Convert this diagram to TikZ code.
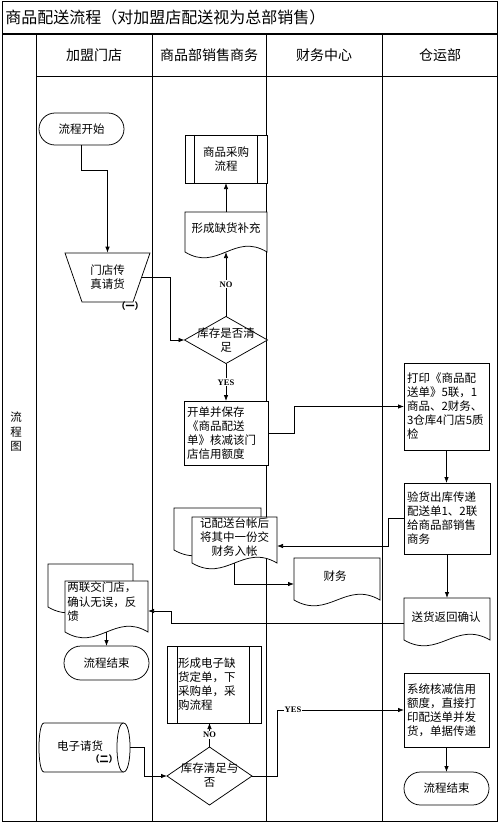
\documentclass[tikz,border=0pt]{standalone}
\usepackage{fontspec}
\setmainfont{Noto Sans CJK SC}
\newfontfamily\latinserif{Liberation Serif}
\usetikzlibrary{arrows.meta,calc,shapes.geometric,shapes.misc}

\newcommand\mydoc[5]{%
  \filldraw[fill=white] (#2,#3) -- (#4,#3) -- (#4,#5) .. controls ({#4-0.4*(#4-#2)},{#5-20}) and ({#4-0.6*(#4-#2)},{#5+20}) .. (#2,#5) -- cycle;
  \node[inner sep=0pt, outer sep=0pt, minimum width={(#4-#2)*1pt}, minimum height={(#5-#3)*1pt}] (#1) at ({(#2+#4)/2},{(#3+#5)/2}) {};}
\newcommand\mybackdoc[4]{%
  \filldraw[fill=white] (#1,#2) -- (#3,#2) -- (#3,#4) .. controls ({#3-0.4*(#3-#1)},{#4-20}) and ({#3-0.6*(#3-#1)},{#4+20}) .. (#1,#4) -- cycle;}

\begin{document}
\begin{tikzpicture}[x=1pt,y=-1pt,line width=0.75pt,
  bodyfont/.style={font=\fontsize{11.5}{14}\selectfont},
  txt/.style={bodyfont, inner sep=0pt, align=center},
  txtl/.style={bodyfont, inner sep=0pt, align=left},
  head/.style={font=\fontsize{14}{16}\selectfont, inner sep=0pt},
  box/.style={draw, fill=white, bodyfont, align=left, inner xsep=3pt, inner ysep=2pt, outer sep=0pt},
  proc/.style={draw, fill=white, bodyfont, outer sep=0pt},
  term/.style={rounded rectangle, draw, fill=white, bodyfont, minimum width=85pt, outer sep=0pt, inner sep=0pt},
  decide/.style={diamond, draw, fill=white, inner sep=0pt, outer sep=0pt},
  arr/.style={-{Latex[length=6pt,width=4.5pt]}},
  yn/.style={font=\latinserif\bfseries\fontsize{8.5}{9}\selectfont, fill=white, inner sep=1pt},
  tag/.style={font=\bfseries\fontsize{9}{10}\selectfont, inner sep=0pt}]
\useasboundingbox (0,0) rectangle (500,824);

% frame and lanes
\draw[line width=1pt] (2,2) rectangle (497,821);
\draw[line width=1.6pt] (2,34) -- (497,34);
\draw (36,34) -- (36,821);
\draw (152,34) -- (152,821);
\draw (266,34) -- (266,821);
\draw (382,34) -- (382,821);
\draw (36,76) -- (497,76);

\node[anchor=west, font=\fontsize{16}{18}\selectfont, inner sep=0pt] (title) at (5,17) {商品配送流程（对加盟店配送视为总部销售）};
\node[head] (h1) at (94,55) {加盟门店};
\node[head] (h2) at (209,55) {商品部销售商务};
\node[head] (h3) at (324,55) {财务中心};
\node[head] (h4) at (440,55) {仓运部};
\node[txt, font=\fontsize{11.5}{14.5}\selectfont] (lane) at (16,432) {流\\程\\图};

% 加盟门店 column
\node[term, minimum height=32pt] (start) at (81.5,129) {流程开始};
\filldraw[fill=white] (65,253) -- (150,253) -- (133,302) -- (82,302) -- cycle;
\node[txt, minimum width=85pt, minimum height=49pt] (trap) at (107.5,277.5) {门店传\\真请货};
\coordinate (trapE) at (141.7,277.5);
\node[tag] (tag1) at (130,306) {（一）};

\mybackdoc{48}{564}{133}{607}
\mydoc{doc5}{65}{581}{148}{632}
\node[txtl, anchor=west, font=\fontsize{11.5}{14.5}\selectfont] (doc5t) at (67,602) {两联交门店，\\确认无误，反\\馈};
\node[term, minimum height=34pt] (end1) at (106.5,663) {流程结束};

% cylinder 电子请货
\filldraw[fill=white] (44,723) -- (123.5,723) .. controls (132.2,723) and (132.2,772) .. (123.5,772) -- (44,772) .. controls (37.3,772) and (37.3,723) .. (44,723) -- cycle;
\draw (123.5,723) .. controls (114.8,723) and (114.8,772) .. (123.5,772);
\node[inner sep=0pt, outer sep=0pt, minimum width=91pt, minimum height=49pt] (cyl) at (84.5,747.5) {};
\node[txt] (cylt) at (80,746) {电子请货};
\node[tag] (tag2) at (104,759) {（二）};

% 商品部销售商务 column
\node[proc, minimum width=82pt, minimum height=48pt, align=center] (proc1) at (226,159) {商品采购\\流程};
\draw ([xshift=9pt]proc1.north west) -- ([xshift=9pt]proc1.south west);
\draw ([xshift=-10pt]proc1.north east) -- ([xshift=-10pt]proc1.south east);

\mydoc{doc1}{185}{212}{267}{252}
\node[txt] (doc1t) at (226,228) {形成缺货补充};

\node[decide, minimum width=83pt, minimum height=47pt] (dia1) at (226,340) {};
\node[txt] (dia1t) at (226,340) {库存是否清\\足};

\node[box, text width=78pt, minimum height=64pt] (box1) at (226,433) {开单并保存\\《商品配送\\单》核减该门\\店信用额度};

\mybackdoc{174}{508}{261}{550}
\mydoc{doc2}{192}{517}{277}{563}
\node[txt] (doc2t) at (234.5,537.5) {记配送台帐后\\将其中一份交\\财务入帐};

\node[proc, minimum height=77pt, text width=72pt, inner xsep=11pt, align=left] (proc2) at (214,684.5) {形成电子缺\\货定单，下\\采购单，采\\购流程};
\draw ([xshift=10pt]proc2.north west) -- ([xshift=10pt]proc2.south west);
\draw ([xshift=-12pt]proc2.north east) -- ([xshift=-12pt]proc2.south east);

\node[decide, minimum width=85pt, minimum height=58pt] (dia2) at (209.5,776) {};
\node[txt] (dia2t) at (209.5,775.5) {库存清足与\\否};

% 财务中心 column
\mydoc{doc3}{294}{558}{380}{600}
\node[txt] (doc3t) at (335,576) {财务};

% 仓运部 column
\node[box, text width=79pt, minimum height=87pt] (box2) at (446.5,406.5) {打印《商品配\\送单》5联，1\\商品、2财务、\\3仓库4门店5质\\检};
\node[box, text width=80pt, minimum height=71pt] (box3) at (447,518.5) {验货出库传递\\配送单1、2联\\给商品部销售\\商务};
\mydoc{doc4}{404}{598}{490}{640}
\node[txt] (doc4t) at (446,617) {送货返回确认};
\node[box, text width=79pt, minimum height=74pt] (box4) at (446.5,710) {系统核减信用\\额度，直接打\\印配送单并发\\货，单据传递};
\node[term, minimum height=33pt] (end2) at (446.5,788.5) {流程结束};

% connectors
\draw[arr] (start.south) -- ++(0,25) -| (trap.north);
\draw[arr] (trapE) -- ++(28.3,0) |- (dia1.west);
\draw[arr] (dia1.north) -- node[yn] (no1) {NO} (doc1.south);
\draw[arr] (doc1.north) -- (proc1.south);
\draw[arr] (dia1.south) -- node[yn] (yes1) {YES} (box1.north);
\draw[arr] (box1.east) -- ++(26,0) |- (box2.west);
\draw[arr] (box2.south) -- (box2.south |- box3.north);
\draw[arr] (box3.west) -- ++(-16,0) |- ([yshift=-6pt]doc2.east);
\draw[arr] (doc2.south) |- ([yshift=-5pt]doc3.west);
\draw[arr] (box3.south) -- (box3.south |- doc4.north);
\draw[arr] ([yshift=-4pt]doc4.west) -- ++(-233,0) |- ([yshift=-4.5pt]doc5.east);
\draw[arr] (doc5.south) -- (end1.north);
\draw[arr] (cyl.east) -- ++(14,0) |- (dia2.west);
\draw[arr] (dia2.north) -- node[yn] (no2) {NO} (dia2.north |- proc2.south);
\draw[arr] (dia2.east) -- ++(25,0) |- (box4.west);
\node[yn] (yes2) at (293,710) {YES};
\draw[arr] (box4.south) -- (box4.south |- end2.north);
\end{tikzpicture}
\end{document}
